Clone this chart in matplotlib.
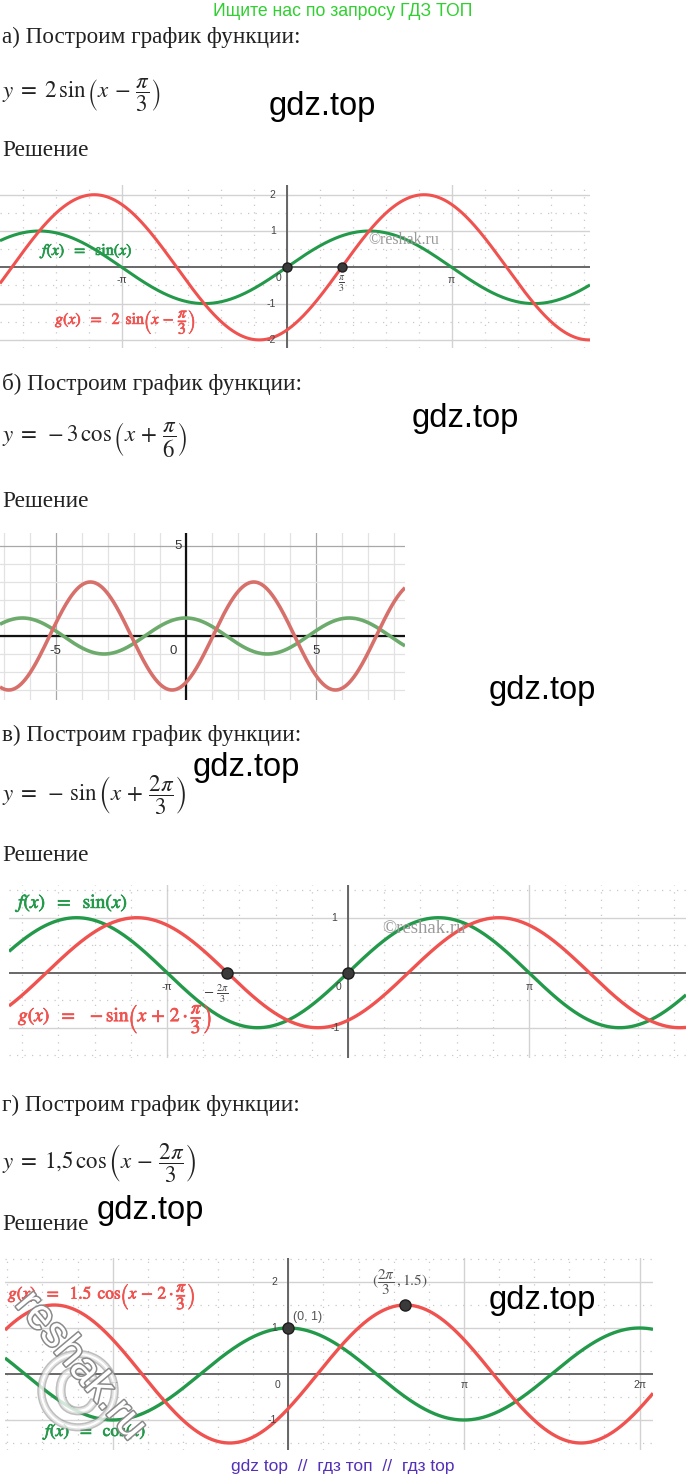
import numpy as np
import matplotlib
matplotlib.use('Agg')
import matplotlib.pyplot as plt
import matplotlib.patheffects as pe

plt.rcParams['mathtext.fontset'] = 'stix'
plt.rcParams['font.family'] = ['Liberation Serif', 'DejaVu Serif']

W, H = 686, 1478
PI = np.pi

# ---- text of the page ----
top_note = 'Ищите нас по запросу ГДЗ ТОП'
bottom_note = 'gdz top  //  гдз топ  //  гдз top'
headers = ['а) Построим график функции:', 'б) Построим график функции:',
           'в) Построим график функции:', 'г) Построим график функции:']
formulas = [r'$y\;=\;2\,\sin\left(x\,-\,\dfrac{\pi}{3}\right)$',
            r'$y\;=\;-3\,\cos\left(x\,+\,\dfrac{\pi}{6}\right)$',
            r'$y\;=\;-\,\sin\left(x\,+\,\dfrac{2\pi}{3}\right)$',
            r'$y\;=\;1{,}5\,\cos\left(x\,-\,\dfrac{2\pi}{3}\right)$']
solution = 'Решение'

# ---- functions: (amplitude, shift) meaning y = amp * f(x + shift) ----
a_func, a_green, a_red = np.sin, (1.0, 0.0), (2.0, -PI / 3)
b_func, b_green, b_red = np.cos, (1.0, 0.0), (-3.0, PI / 6)
c_func, c_green, c_red = np.sin, (1.0, 0.0), (-1.0, 2 * PI / 3)
d_func, d_green, d_red = np.cos, (1.0, 0.0), (1.5, -2 * PI / 3)

a_points = [(0.0, 0.0), (PI / 3, 0.0)]
c_points = [(-2 * PI / 3, 0.0), (0.0, 0.0)]
d_points = [(0.0, 1.0), (2 * PI / 3, 1.5)]

GREEN = '#23994a'
RED = '#f0524f'
B_GREEN = '#6cab6c'
B_RED = '#d7706b'

fig = plt.figure(figsize=(W / 100, H / 100), dpi=100)
fig.patch.set_facecolor('white')


def ptxt(x, y, s, **kw):
    # text placed in page pixels (y from top)
    kw.setdefault('va', 'center')
    return fig.text(x / W, 1 - y / H, s, **kw)


def panel(x0, y0, x1, y1, ox, oy, ux, uy):
    ax = fig.add_axes([x0 / W, 1 - y1 / H, (x1 - x0) / W, (y1 - y0) / H])
    ax.set_xlim((x0 - ox) / ux, (x1 - ox) / ux)
    ax.set_ylim((oy - y1) / uy, (oy - y0) / uy)
    for s in ax.spines.values():
        s.set_visible(False)
    ax.tick_params(which='both', length=0, labelbottom=False, labelleft=False)
    ax.set_facecolor('none')
    return ax


def geogebra_grid(ax, ymaj, ymin):
    xl, yl = ax.get_xlim(), ax.get_ylim()
    ax.set_xticks(np.arange(-3, 4) * PI)
    ax.set_xticks(np.arange(-15, 16) * PI / 5, minor=True)
    ax.set_yticks(ymaj)
    ax.set_yticks(ymin, minor=True)
    ax.set_xlim(xl)
    ax.set_ylim(yl)
    ax.grid(which='major', color='#d2d2d2', lw=1.0)
    ax.grid(which='minor', color='#c8c8c8', lw=0.9, ls=(0, (1, 5)))
    ax.set_axisbelow(True)
    ax.axhline(0, color='#5c5c5c', lw=1.3, zorder=1)
    ax.axvline(0, color='#5c5c5c', lw=1.3, zorder=1)


def tick_label(ax, s, xy, off, size=7.5, color='#444444', ha='center', **kw):
    ax.annotate(s, xy, xytext=off, textcoords='offset points', ha=ha,
                va='center', fontsize=size, color=color,
                family=['Liberation Sans', 'DejaVu Sans'], **kw)


def curve(ax, func, params, color, lw):
    x = np.linspace(*ax.get_xlim(), 800)
    amp, shift = params
    ax.plot(x, amp * func(x + shift), color=color, lw=lw, zorder=3,
            solid_capstyle='butt')


def dots(ax, pts, ms=7):
    xs, ys = zip(*pts)
    ax.plot(xs, ys, 'o', ms=ms, color='#3a3a3a', mec='#1e1e1e', zorder=5)


bold = lambda c: [pe.withStroke(linewidth=0.5, foreground=c)]

# ---- page texts ----
ptxt(343, 11, top_note, ha='center', color='#2fd030', fontsize=12.7,
     family=['Liberation Sans', 'DejaVu Sans'])
ptxt(343, 1467, bottom_note, ha='center', color='#5530b8', fontsize=12.5,
     family=['Liberation Sans', 'DejaVu Sans'])

head_y = [37, 384, 735, 1105]
form_y = [95, 440, 795, 1163]
sol_y = [150, 501, 855, 1225]
for hy, fy, sy, h, f in zip(head_y, form_y, sol_y, headers, formulas):
    ptxt(2, hy, h, fontsize=16.7, color='#222222')
    ptxt(2, fy, f, fontsize=16.5, color='#222222')
    ptxt(2, sy, solution, fontsize=16.7, color='#222222')

for gx, gy in [(322, 107), (465, 418), (542, 690), (246, 767),
               (150, 1210), (542, 1300)]:
    ptxt(gx, gy, 'gdz.top', ha='center', fontsize=23.5, color='black',
         family=['Liberation Sans', 'DejaVu Sans'], zorder=10)

# ---- a) ----
ax = panel(0, 185, 590, 348, 286.7, 267.3, 52.5, 36.3)
geogebra_grid(ax, [-2, -1, 1, 2], np.arange(-2.5, 3, 1.0))
curve(ax, a_func, a_green, GREEN, 2.2)
curve(ax, a_func, a_red, RED, 2.2)
dots(ax, a_points, ms=6.5)
for v in [2, 1, -1, -2]:
    tick_label(ax, str(v), (0, v), (-8, 0), ha='right')
tick_label(ax, '-π', (-PI, 0), (0, -9))
tick_label(ax, 'π', (PI, 0), (0, -9))
tick_label(ax, '0', (0, 0), (-6, -8))
tick_label(ax, r'$\frac{\pi}{3}$', (PI / 3, 0), (0, -12), size=10)
ptxt(42, 251, r'$f(x)\ \ =\ \ \mathrm{sin}(x)$', color=GREEN, fontsize=11.5,
     path_effects=bold(GREEN))
ptxt(55, 322, r'$g(x)\ \ =\ \ 2\ \,\mathrm{sin}\left(x\,-\,\dfrac{\pi}{3}\right)$',
     color=RED, fontsize=11.5, path_effects=bold(RED))
ptxt(368, 240, '©reshak.ru', color='#9a9a9a', fontsize=11.5, zorder=6)

# ---- b) ----
ax = panel(0, 533, 405, 700, 185.7, 636, 26, 18)
xl, yl = ax.get_xlim(), ax.get_ylim()
ax.set_xticks([-5, 0, 5])
ax.set_xticks(np.arange(-7, 9), minor=True)
ax.set_yticks([0, 5])
ax.set_yticks(np.arange(-3, 6), minor=True)
ax.set_xlim(xl)
ax.set_ylim(yl)
ax.grid(which='minor', color='#e2e2e2', lw=0.9)
ax.grid(which='major', color='#a8a8a8', lw=0.9)
ax.set_axisbelow(True)
ax.axhline(0, color='#111111', lw=1.6, zorder=1)
ax.axvline(0, color='#111111', lw=1.6, zorder=1)
curve(ax, b_func, b_green, B_GREEN, 2.6)
curve(ax, b_func, b_red, B_RED, 2.6)
tick_label(ax, '5', (0, 5), (-3, 0), ha='right', size=9.5, color='#333333')
tick_label(ax, '-5', (-5, 0), (0, -11), size=9.5, color='#333333')
tick_label(ax, '0', (0, 0), (-9, -11), size=9.5, color='#333333')
tick_label(ax, '5', (5, 0), (0, -11), size=9.5, color='#333333')

# ---- c) ----
ax = panel(9, 885, 686, 1058, 348, 972.7, 57.6, 55)
geogebra_grid(ax, [-1, 1], np.arange(-1.5, 2, 1.0))
curve(ax, c_func, c_green, GREEN, 2.4)
curve(ax, c_func, c_red, RED, 2.4)
dots(ax, c_points, ms=8)
tick_label(ax, '1', (0, 1), (-8, 0), ha='right')
tick_label(ax, '-1', (0, -1), (-6, 0), ha='right')
tick_label(ax, '0', (0, 0), (-7, -10))
tick_label(ax, '-π', (-PI, 0), (0, -10))
tick_label(ax, 'π', (PI, 0), (0, -10))
tick_label(ax, r'$-\ \frac{2\pi}{3}$', (-2 * PI / 3, 0), (-8, -15), size=10.5)
ptxt(18, 903, r'$f(x)\ \ =\ \ \mathrm{sin}(x)$', color=GREEN, fontsize=14,
     path_effects=bold(GREEN))
ptxt(18, 1018, r'$g(x)\ \ =\ \ -\mathrm{sin}\left(x\,+\,2\cdot\dfrac{\pi}{3}\right)$',
     color=RED, fontsize=14, path_effects=bold(RED))
ptxt(382, 929, '©reshak.ru', color='#9a9a9a', fontsize=13.5, zorder=6)

# ---- d) ----
ax = panel(5, 1258, 653, 1450, 288.3, 1374, 55.9, 46)
geogebra_grid(ax, [-1, 1, 2], np.arange(-1.5, 3, 1.0))
curve(ax, d_func, d_green, GREEN, 2.4)
curve(ax, d_func, d_red, RED, 2.4)
dots(ax, d_points, ms=8)
for v in [2, 1, -1]:
    tick_label(ax, str(v), (0, v), (-8, 0), ha='right')
tick_label(ax, '0', (0, 0), (-8, -8))
tick_label(ax, '-π', (-PI, 0), (0, -8))
tick_label(ax, 'π', (PI, 0), (0, -8))
tick_label(ax, '2π', (2 * PI, 0), (0, -8))
ptxt(293, 1317, '(0, 1)', color='#555555', fontsize=9,
     family=['Liberation Sans', 'DejaVu Sans'])
ptxt(372, 1283, r'$(\dfrac{2\pi}{3}\,,1.5)$', color='#555555', fontsize=11)
ptxt(8, 1297, r'$g(x)\ \ =\ \ 1.5\ \,\mathrm{cos}\left(x\,-\,2\cdot\dfrac{\pi}{3}\right)$',
     color=RED, fontsize=12.5, path_effects=bold(RED))
ptxt(45, 1432, r'$f(x)\ \ =\ \ \mathrm{cos}(x)$', color=GREEN, fontsize=12.5,
     path_effects=bold(GREEN))

# big outlined watermark over panel d
outline = [pe.withStroke(linewidth=2.2, foreground='#8a8a8a')]
ptxt(78, 1400, '©', ha='center', fontsize=80, color='white',
     family=['Liberation Sans', 'DejaVu Sans'], path_effects=outline,
     alpha=0.55, zorder=7)
ptxt(80, 1366, 'reshak.ru', ha='center', fontsize=31, color='white',
     rotation=-50, family=['Liberation Sans', 'DejaVu Sans'],
     path_effects=outline, zorder=8)

fig.savefig('out.png', dpi=100, facecolor='white')
